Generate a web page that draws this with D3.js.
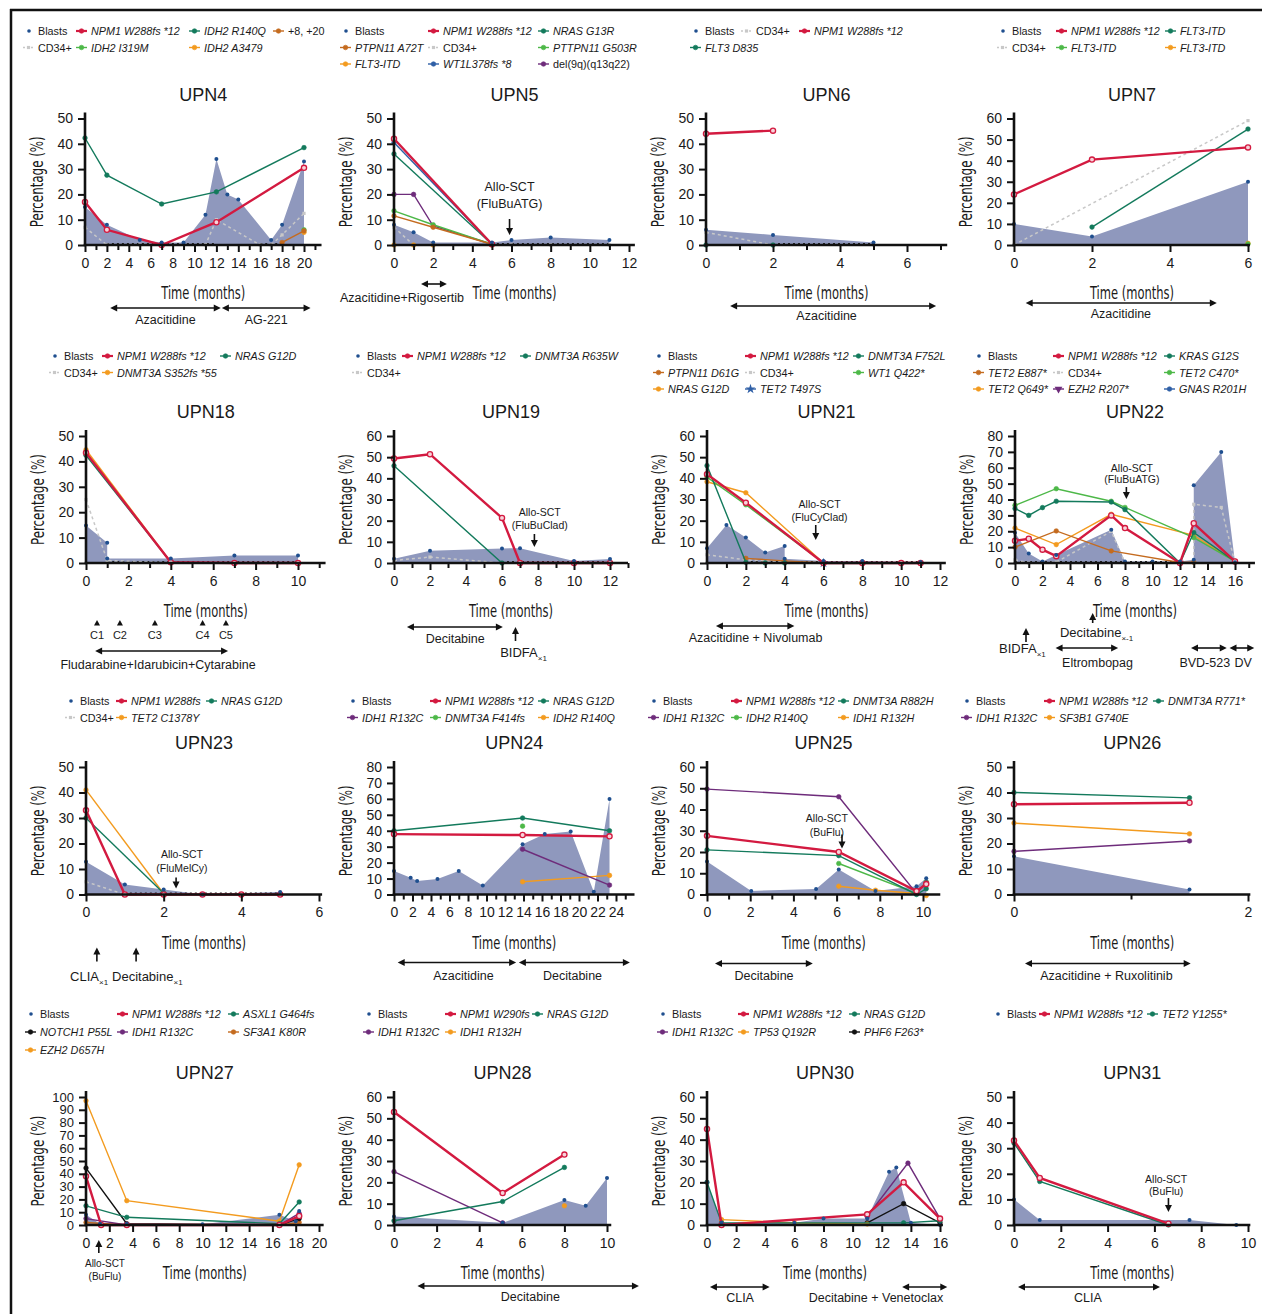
<!DOCTYPE html>
<html>
<head>
<meta charset="utf-8">
<script src="https://cdn.jsdelivr.net/npm/d3@7"></script>
<style>
body { margin: 0; background: #fff; }
svg text { font-family: "Liberation Sans", Arial, sans-serif; fill: #1a1a1a; }
</style>
</head>
<body>
<svg id="fig" width="1262" height="1314"></svg>
<script>
// ---- data: legend labels (row-major), [month, %] points, colour keys ----
var upn4Labels = ["Blasts", "NPM1 W288fs *12", "IDH2 R140Q", "+8, +20", "CD34+", "IDH2 I319M", "IDH2 A3479"];
var upn4Values = [
  [[0,15],[2,8],[5,2],[7,1],[9,1],[11,12],[12,34],[13,20],[14,18],[17,2],[18,8],[20,33]],
  [[0,17],[2,6],[7,0],[12,9],[20,30.5]],
  [[0,42.3],[2,27.6],[7,16.2],[12,21],[20,38.5]],
  [[18,1],[20,5.6]],
  [[0,7],[2,0],[5,0],[7,0],[11,0],[12,10],[16,0],[17,0],[18,4],[20,12.5]],
  [[20,6]],
  [[20,5]]
];
var upn4Colors = ["blast", "red", "teal", "brown", "cd34", "green", "orange"];

var upn5Labels = ["Blasts", "NPM1 W288fs *12", "NRAS G13R", "PTPN11 A72T", "CD34+", "PTTPN11 G503R", "FLT3-ITD", "WT1L378fs *8", "del(9q)(q13q22)"];
var upn5Values = [
  [[0,8],[1,5],[2,1],[5,1],[6,2],[8,3],[11,2]],
  [[0,42],[5,0.3]],
  [[0,36],[5,0.3]],
  [[0,11.5],[2,7],[5,0.3]],
  [[0,7],[1,0],[2,0],[5,0],[6,0],[8,0],[11,0]],
  [[0,13.5],[2,8],[5,0.3]],
  [[0,0],[1,0],[2,0],[5,0]],
  [[0,40.5],[5,0.3]],
  [[0,20],[1,20],[2,7.5],[5,0.3]]
];
var upn5Colors = ["blast", "red", "teal", "brown", "cd34", "green", "orange", "blue", "purple"];

var upn6Labels = ["Blasts", "CD34+", "NPM1 W288fs *12", "FLT3 D835"];
var upn6Values = [
  [[0,6],[2,4],[5,1]],
  [[0,5],[2,0],[5,0]],
  [[0,44],[2,45.2]],
  [[0,0],[2,0]]
];
var upn6Colors = ["blast", "cd34", "red", "teal"];

var upn7Labels = ["Blasts", "NPM1 W288fs *12", "FLT3-ITD", "CD34+", "FLT3-ITD", "FLT3-ITD"];
var upn7Values = [
  [[0,10],[2,4],[6,30]],
  [[0,24],[2,40.5],[6,46.3]],
  [[2,8.5],[6,55]],
  [[0,0],[6,59]],
  [[6,0.5]],
  [[6,0.8]]
];
var upn7Colors = ["blast", "red", "teal", "cd34", "green", "orange"];

var upn18Labels = ["Blasts", "NPM1 W288fs *12", "NRAS G12D", "CD34+", "DNMT3A S352fs *55"];
var upn18Values = [
  [[0,14.8],[1,8],[1,1.8],[4,1.8],[7,3],[10,3]],
  [[0,43.4],[4,0.3],[7,0],[10,0]],
  [[0,42.4],[4,0.3]],
  [[0,25],[1,1],[4,0],[7,0],[10,0]],
  [[0,44.6],[4,0.3]]
];
var upn18Colors = ["blast", "red", "teal", "cd34", "orange"];

var upn19Labels = ["Blasts", "NPM1 W288fs *12", "DNMT3A R635W", "CD34+"];
var upn19Values = [
  [[0,2],[2,5.8],[6,6.9],[7,7],[10,0.9],[12,1.9]],
  [[0,49.4],[2,51.4],[6,21.3],[7,0],[10,0],[12,0]],
  [[0,45.9],[6,0],[7,0]],
  [[0,1.2],[2,2.8],[6,0],[7,0],[10,0],[12,0]]
];
var upn19Colors = ["blast", "red", "teal", "cd34"];

var upn21Labels = ["Blasts", "NPM1 W288fs *12", "DNMT3A F752L", "PTPN11 D61G", "CD34+", "WT1 Q422*", "NRAS G12D", "TET2 T497S"];
var upn21Values = [
  [[0,7],[1,18],[2,12],[3,5],[4,8],[4,2],[6,1],[8,1],[11,0.5]],
  [[0,41.9],[2,28.5],[6,0],[8,0],[10,0],[11,0]],
  [[0,46],[2,0.3],[3,0],[4,0],[6,0]],
  [[2,2.2],[4,1],[6,0]],
  [[0,3.9],[2,1.5],[4,0.5],[6,0],[8,0],[10,0],[11,0]],
  [[0,40.6],[2,27.5],[6,0]],
  [[0,38.4],[2,33.2],[6,0]],
  [[6,0]]
];
var upn21Colors = ["blast", "red", "teal", "brown", "cd34", "green", "orange", "bluestar"];

var upn22Labels = ["Blasts", "NPM1 W288fs *12", "KRAS G12S", "TET2 E887*", "CD34+", "TET2 C470*", "TET2 Q649*", "EZH2 R207*", "GNAS R201H"];
var upn22Values = [
  [[0,19],[1,6],[2,1],[3,5],[7,21],[8,1],[10,1],[12,1],[13,2],[13,49],[15,70],[16,0.5]],
  [[0,14],[1,15.3],[2,8.4],[3,4.3],[7,30],[8,22],[12,0],[13,25],[16,1]],
  [[0,34.3],[1,30],[2,34.9],[3,38.9],[7,38.4],[8,33.6],[12,0],[13,19.2],[16,1]],
  [[0,10],[3,20.2],[7,7.6],[12,0.3],[13,0.5]],
  [[0,2],[1,0],[2,0],[3,0.5],[7,20],[8,0],[12,0],[13,0],[13,37],[15,35],[16,0]],
  [[0,36.3],[3,46.8],[7,38.9],[8,35],[13,16],[16,1]],
  [[0,22],[3,11.6],[7,30.7],[13,17.4],[16,1]],
  [[12,0]],
  [[12,0]]
];
var upn22Colors = ["blast", "red", "teal", "brown", "cd34", "green", "orange", "purpletri", "blue"];

var upn23Labels = ["Blasts", "NPM1 W288fs", "NRAS G12D", "CD34+", "TET2 C1378Y"];
var upn23Values = [
  [[0,12.8],[1,3.9],[2,2],[3,0],[5,1]],
  [[0,33],[1,0],[2,0],[3,0],[4,0],[5,0]],
  [[0,30],[2,0.5]],
  [[0,5],[1,0],[2,0],[5,0]],
  [[0,41],[2,0.3]]
];
var upn23Colors = ["blast", "red", "teal", "cd34", "orange"];

var upn24Labels = ["Blasts", "NPM1 W288fs *12", "NRAS G12D", "IDH1 R132C", "DNMT3A F414fs", "IDH2 R140Q"];
var upn24Values = [
  [[0,14.7],[1.8,10.5],[2.5,8.5],[4.7,9.7],[7,14.7],[9.6,5.6],[13.9,31.6],[16.3,37.9],[19.1,39.6],[21.6,1.7],[23.3,60]],
  [[0,37.9],[13.9,37.3],[23.3,36.5]],
  [[0,40],[13.9,48],[23.3,40]],
  [[13.9,28.4],[23.3,5.9]],
  [[13.9,42.9]],
  [[13.9,8],[23.3,12]]
];
var upn24Colors = ["blast", "red", "teal", "purple", "green", "orange"];

var upn25Labels = ["Blasts", "NPM1 W288fs *12", "DNMT3A R882H", "IDH1 R132C", "IDH2 R140Q", "IDH1 R132H"];
var upn25Values = [
  [[0,15.5],[2.05,1.7],[5.05,2.6],[6.1,11.8],[7.8,1.7],[9.7,3.9],[10.15,7.6]],
  [[0,27.6],[6.1,20],[9.7,1.6],[10.15,4.9]],
  [[0,21],[6.1,18.3],[9.7,0],[10.15,2.7]],
  [[0,49.6],[6.1,46],[9.7,0.5],[10.15,5.5]],
  [[6.1,14.6],[9.7,0.5],[10.15,6]],
  [[6.1,3.9],[7.8,2],[9.7,0.5],[10.15,-0.5]]
];
var upn25Colors = ["blast", "red", "teal", "purple", "green", "orange"];

var upn26Labels = ["Blasts", "NPM1 W288fs *12", "DNMT3A R771*", "IDH1 R132C", "SF3B1 G740E"];
var upn26Values = [
  [[0,15],[1.5,2]],
  [[0,35.4],[1.5,36]],
  [[0,40],[1.5,37.9]],
  [[0,16.9],[1.5,21]],
  [[0,28],[1.5,23.8]]
];
var upn26Colors = ["blast", "red", "teal", "purple", "orange"];

var upn27Labels = ["Blasts", "NPM1 W288fs *12", "ASXL1 G464fs", "NOTCH1 P55L", "IDH1 R132C", "SF3A1 K80R", "EZH2 D657H"];
var upn27Values = [
  [[0,8],[1.2,1],[3.5,1],[10,0.5],[16.6,8],[18,3],[18.3,11]],
  [[0,38],[1.3,0],[3.5,0],[16.6,0],[18.3,7]],
  [[0,15],[3.5,6],[16.6,1],[18.3,18]],
  [[0,44.5],[3.5,1],[16.6,0],[18.3,5]],
  [[0,5],[3.5,0],[16.6,0],[18.3,9]],
  [[0,2],[3.5,0],[16.6,0],[18.3,2]],
  [[0,97],[3.5,19],[16.6,3],[18.3,47]]
];
var upn27Colors = ["blast", "red", "teal", "black", "purple", "brown", "orange"];

var upn28Labels = ["Blasts", "NPM1 W290fs", "NRAS G12D", "IDH1 R132C", "IDH1 R132H"];
var upn28Values = [
  [[0,4],[5.1,1],[8,11.7],[9,9],[10,22]],
  [[0,53],[5.1,15],[8,33]],
  [[0,2],[5.1,11],[8,27]],
  [[0,25],[5.1,1]],
  [[8,9]]
];
var upn28Colors = ["blast", "red", "teal", "purple", "orange"];

var upn30Labels = ["Blasts", "NPM1 W288fs *12", "NRAS G12D", "IDH1 R132C", "TP53 Q192R", "PHF6 F263*"];
var upn30Values = [
  [[0,20],[1,1],[6,1],[8,3],[11,3],[12.5,25],[13,27],[14,1],[16,0]],
  [[0,45],[1,0],[11,5],[13.5,20],[16,3]],
  [[0,20],[1,1],[13.5,1],[16,2]],
  [[11,4],[13.8,29],[16,3]],
  [[1,2.5],[6,1],[11,0.5]],
  [[11,1],[13.5,10],[16,1]]
];
var upn30Colors = ["blast", "red", "teal", "purple", "orange", "black"];

var upn31Labels = ["Blasts", "NPM1 W288fs *12", "TET2 Y1255*"];
var upn31Values = [
  [[0,10],[1.1,2],[7.5,2],[9.5,0]],
  [[0,33],[1.1,18.4],[6.6,0.5]],
  [[0,32],[1.1,17],[6.6,0]]
];
var upn31Colors = ["blast", "red", "teal"];

// ---- layout ----
var panels = [
  {name:"UPN4", labels:upn4Labels, values:upn4Values, colors:upn4Colors, ax:85, refX:20, refPx:304, xEnd:21.6, y0:245, yTop:118.5, yMax:50, minor:true,
   legY:31, legCols:[38,91,204,288], zero:[[2,12],[16,18]],
   notes:[{t:"span", from:2.3, to:12.4, dy:63, ly:79, label:"Azacitidine"}, {t:"span", from:12.5, to:20.6, dy:63, ly:79, label:"AG-221"}]},
  {name:"UPN5", labels:upn5Labels, values:upn5Values, colors:upn5Colors, ax:394, refX:12, refPx:629, xEnd:12.3, y0:245, yTop:118.5, yMax:50, minor:true,
   legY:31, legCols:[355,443,553], zero:[[5,11]],
   notes:[{t:"down", x:5.9, a1:-26, a2:-10, tx:5.9, ty:[-54,-37], lines:["Allo-SCT","(FluBuATG)"], fs:12.5},
          {t:"span", from:1.38, to:2.7, dy:39, ly:57, lx:0.41, label:"Azacitidine+Rigosertib"}]},
  {name:"UPN6", labels:upn6Labels, values:upn6Values, colors:upn6Colors, ax:706, refX:6, refPx:907, xEnd:7.2, y0:245, yTop:118.5, yMax:50, minor:true,
   legY:31, legCols:[705,756,814], zero:[[2,5]],
   notes:[{t:"span", from:0.72, to:6.87, dy:61, ly:75, lx:3.6, label:"Azacitidine"}]},
  {name:"UPN7", labels:upn7Labels, values:upn7Values, colors:upn7Colors, ax:1014, refX:6, refPx:1248, xEnd:6.05, y0:245, yTop:118.5, yMax:60, minor:false,
   legY:31, legCols:[1012,1071,1180], zero:[],
   notes:[{t:"span", from:0.3, to:5.2, dy:58, ly:73, lx:2.74, label:"Azacitidine"}]},

  {name:"UPN18", labels:upn18Labels, values:upn18Values, colors:upn18Colors, ax:86, refX:10, refPx:298, xEnd:11.3, y0:563, yTop:436, yMax:50, minor:true,
   legY:356, legCols:[64,117,235], zero:[[1,10]],
   notes:[{t:"cycles", xs:[0.52,1.6,3.25,5.5,6.6], labels:["C1","C2","C3","C4","C5"], dy:61, ly:76},
          {t:"span", from:0.43, to:6.7, dy:88, ly:106, lx:3.4, label:"Fludarabine+Idarubicin+Cytarabine"}]},
  {name:"UPN19", labels:upn19Labels, values:upn19Values, colors:upn19Colors, ax:394, refX:12, refPx:610, xEnd:13, y0:563, yTop:436, yMax:60, minor:true,
   legY:356, legCols:[367,417,535], zero:[[6,12]],
   notes:[{t:"down", x:7.8, a1:-29, a2:-16, tx:8.1, ty:[-47,-34], lines:["Allo-SCT","(FluBuClad)"], fs:10.5},
          {t:"span", from:0.72, to:6.05, dy:64, ly:80, lx:3.4, label:"Decitabine"},
          {t:"up", x:6.75, a1:78, a2:64, tx:5.9, ty:94, label:"BIDFA", sub:"\u00d71"}]},
  {name:"UPN21", labels:upn21Labels, values:upn21Values, colors:upn21Colors, ax:707, refX:12, refPx:940, xEnd:12.3, y0:563, yTop:436, yMax:60, minor:true,
   legY:356, legCols:[668,760,868], zero:[[2,11]],
   notes:[{t:"down", x:5.6, a1:-38, a2:-23, tx:5.8, ty:[-55,-42], lines:["Allo-SCT","(FluCyClad)"], fs:10.5},
          {t:"span", from:0.46, to:4.5, dy:63, ly:79, lx:2.5, label:"Azacitidine + Nivolumab"}]},
  {name:"UPN22", labels:upn22Labels, values:upn22Values, colors:upn22Colors, ax:1015, refX:16, refPx:1235, xEnd:17.45, y0:563, yTop:436, yMax:80, minor:true,
   legY:356, legCols:[988,1068,1179], zero:[[0,12]],
   notes:[{t:"down", x:8.1, a1:-76, a2:-64, tx:8.5, ty:[-91,-80], lines:["Allo-SCT","(FluBuATG)"], fs:10.5},
          {t:"up", x:5.65, a1:60, a2:50, tx:3.27, ty:74, label:"Decitabine", sub:"\u00d7-1"},
          {t:"up", x:0.8, a1:79, a2:65, tx:-1.16, ty:90, label:"BIDFA", sub:"\u00d71"},
          {t:"span", from:2.95, to:7.5, dy:85, ly:104, lx:6.0, label:"Eltrombopag"},
          {t:"span", from:12.8, to:15.4, dy:85, ly:104, lx:13.8, label:"BVD-523"},
          {t:"span", from:15.6, to:17.4, dy:85, ly:104, lx:16.6, label:"DV"}]},

  {name:"UPN23", labels:upn23Labels, values:upn23Values, colors:upn23Colors, ax:86, refX:6, refPx:319, xEnd:6.08, y0:894.5, yTop:767, yMax:50, minor:false,
   legY:701, legCols:[80,131,221], zero:[[1,5]],
   notes:[{t:"down", x:2.32, a1:-17, a2:-6, tx:2.47, ty:[-37,-23], lines:["Allo-SCT","(FluMelCy)"], fs:10.5},
          {t:"up", x:0.28, a1:67, a2:53, tx:-0.41, ty:86, label:"CLIA", sub:"\u00d71"},
          {t:"up", x:1.29, a1:67, a2:53, tx:0.67, ty:86, label:"Decitabine", sub:"\u00d71"}]},
  {name:"UPN24", labels:upn24Labels, values:upn24Values, colors:upn24Colors, ax:394, refX:24, refPx:616, xEnd:26, lastTick:25, y0:894.5, yTop:767, yMax:80, minor:true,
   legY:701, legCols:[362,445,553], zero:[],
   notes:[{t:"span", from:0.4, to:13.2, dy:68, ly:85, lx:7.5, label:"Azacitidine"},
          {t:"span", from:13.5, to:25.5, dy:68, ly:85, lx:19.3, label:"Decitabine"}]},
  {name:"UPN25", labels:upn25Labels, values:upn25Values, colors:upn25Colors, ax:707, refX:10, refPx:923, xEnd:10.8, y0:894.5, yTop:767, yMax:60, minor:true,
   legY:701, legCols:[663,746,853], zero:[],
   notes:[{t:"down", x:6.25, a1:-60, a2:-46, tx:5.55, ty:[-73,-59], lines:["Allo-SCT","(BuFlu)"], fs:10.5},
          {t:"span", from:0.37, to:4.9, dy:69, ly:85, lx:2.64, label:"Decitabine"}]},
  {name:"UPN26", labels:upn26Labels, values:upn26Values, colors:upn26Colors, ax:1014, refX:2, refPx:1248, xEnd:2.02, y0:894.5, yTop:767, yMax:50, minor:true,
   legY:701, legCols:[976,1059,1168], zero:[],
   notes:[{t:"span", from:0.094, to:1.51, dy:69, ly:85, lx:0.79, label:"Azacitidine + Ruxolitinib"}]},

  {name:"UPN27", labels:upn27Labels, values:upn27Values, colors:upn27Colors, ax:86, refX:20, refPx:319, xEnd:20.4, y0:1225, yTop:1097, yMax:100, minor:false, yFs:13,
   legY:1014, legGap:18, legCols:[40,132,243], zero:[],
   notes:[{t:"upLines", x:1.1, a1:28, a2:15, tx:1.63, ty:[42,55], lines:["Allo-SCT","(BuFlu)"], fs:10}]},
  {name:"UPN28", labels:upn28Labels, values:upn28Values, colors:upn28Colors, ax:394, refX:10, refPx:607, xEnd:10.2, y0:1225, yTop:1097, yMax:60, minor:false,
   legY:1014, legGap:18, legCols:[378,460,547], zero:[],
   notes:[{t:"span", from:1.1, to:11.5, dy:61, ly:76, lx:6.4, label:"Decitabine"}]},
  {name:"UPN30", labels:upn30Labels, values:upn30Values, colors:upn30Colors, ax:707, refX:16, refPx:940, xEnd:16.2, y0:1225, yTop:1097, yMax:60, minor:false,
   legY:1014, legGap:18, legCols:[672,753,864], zero:[],
   notes:[{t:"span", from:0.2, to:4.3, dy:62, ly:77, lx:2.27, label:"CLIA"},
          {t:"span", from:13.4, to:16.5, dy:62, ly:77, lx:11.6, label:"Decitabine + Venetoclax"}]},
  {name:"UPN31", labels:upn31Labels, values:upn31Values, colors:upn31Colors, ax:1014, refX:10, refPx:1248, xEnd:10.1, y0:1225, yTop:1097, yMax:50, minor:false,
   legY:1014, legGap:18, legCols:[1007,1054,1162], zero:[],
   notes:[{t:"down", x:6.6, a1:-27, a2:-13, tx:6.5, ty:[-42,-30], lines:["Allo-SCT","(BuFlu)"], fs:10.5},
          {t:"span", from:0.17, to:6.24, dy:62, ly:77, lx:3.16, label:"CLIA"}]}
];

var colorMap = {red:"#d31a40", teal:"#137a5c", green:"#4db848", orange:"#f39b1f", brown:"#c46b1f",
  purple:"#6e2c7b", purpletri:"#6e2c7b", blue:"#2f5fa6", bluestar:"#2f5fa6", black:"#111111",
  cd34:"#c8c8c8", blast:"#1f4f8f"};
var areaFill = "#8f98bd";
var plainLabels = ["Blasts", "CD34+", "+8, +20", "del(9q)(q13q22)"];

var svg = d3.select("#fig");

// frame
svg.append("line").attr("x1", 10).attr("x2", 1262).attr("y1", 10).attr("y2", 10).attr("stroke", "#111").attr("stroke-width", 2.5);
svg.append("line").attr("x1", 11).attr("x2", 11).attr("y1", 9).attr("y2", 1314).attr("stroke", "#111").attr("stroke-width", 2.5);

function hArrow(g, x1, x2, yy){
  var h = 7, w = 3.5;
  g.append("line").attr("x1", x1 + h - 1).attr("x2", x2 - h + 1).attr("y1", yy).attr("y2", yy)
    .attr("stroke", "#111").attr("stroke-width", 1.6);
  g.append("path").attr("d", "M" + x1 + "," + yy + "L" + (x1 + h) + "," + (yy - w) + "L" + (x1 + h) + "," + (yy + w) + "Z").attr("fill", "#111");
  g.append("path").attr("d", "M" + x2 + "," + yy + "L" + (x2 - h) + "," + (yy - w) + "L" + (x2 - h) + "," + (yy + w) + "Z").attr("fill", "#111");
}

function vArrow(g, xx, tail, tip){
  var dir = tip > tail ? 1 : -1, h = 7, w = 3.5;
  g.append("line").attr("x1", xx).attr("x2", xx).attr("y1", tail).attr("y2", tip - dir * (h - 1))
    .attr("stroke", "#111").attr("stroke-width", 1.6);
  g.append("path").attr("d", "M" + xx + "," + tip + "L" + (xx - w) + "," + (tip - dir * h) + "L" + (xx + w) + "," + (tip - dir * h) + "Z").attr("fill", "#111");
}

function marker(g, key, cx, cy, open){
  var c = colorMap[key];
  if (key === "bluestar") {
    g.append("path").attr("d", d3.symbol().type(d3.symbolStar).size(30)()).attr("transform", "translate(" + cx + "," + cy + ")").attr("fill", c);
  } else if (key === "purpletri") {
    g.append("path").attr("d", d3.symbol().type(d3.symbolTriangle).size(26)()).attr("transform", "translate(" + cx + "," + cy + ") rotate(180)").attr("fill", c);
  } else if (key === "cd34") {
    g.append("rect").attr("x", cx - 1.6).attr("y", cy - 1.6).attr("width", 3.2).attr("height", 3.2).attr("fill", c);
  } else {
    g.append("circle").attr("cx", cx).attr("cy", cy).attr("r", open ? 2.6 : 2.3)
      .attr("fill", open ? "#f7d3da" : c).attr("stroke", c).attr("stroke-width", open ? 1.3 : 0.6);
  }
}

function drawPanel(p){
  var g = svg.append("g");
  var pxPer = (p.refPx - p.ax) / p.refX;
  var x = d3.scaleLinear().domain([0, p.xEnd]).range([p.ax, p.ax + pxPer * p.xEnd]);
  var y = d3.scaleLinear().domain([0, p.yMax]).range([p.y0, p.yTop]);
  var xRight = x(p.xEnd);
  var cx = (p.ax + xRight) / 2;

  // legend
  var ncols = p.legCols.length, gap = p.legGap || 16.5;
  p.labels.forEach(function(lab, i){
    var tx = p.legCols[i % ncols], ty = p.legY + Math.floor(i / ncols) * gap;
    var key = p.colors[i];
    if (key === "blast") {
      g.append("circle").attr("cx", tx - 9).attr("cy", ty).attr("r", 1.8).attr("fill", colorMap.blast);
    } else {
      g.append("line").attr("x1", tx - 15).attr("x2", tx - 4).attr("y1", ty).attr("y2", ty)
        .attr("stroke", colorMap[key]).attr("stroke-width", key === "red" ? 2.2 : 1.4)
        .attr("stroke-dasharray", key === "cd34" ? "2,2" : null);
      marker(g, key, tx - 9.5, ty, false);
    }
    g.append("text").attr("x", tx).attr("y", ty + 4).attr("font-size", 10.8)
      .attr("font-style", plainLabels.indexOf(lab) >= 0 ? "normal" : "italic").text(lab);
  });

  // title
  g.append("text").attr("x", cx).attr("y", p.yTop - 18).attr("text-anchor", "middle").attr("font-size", 18).text(p.name);

  // blasts area
  var blasts = p.values[0];
  g.append("path").datum(blasts)
    .attr("d", d3.area().x(function(d){ return x(d[0]); }).y0(y(0)).y1(function(d){ return y(d[1]); }))
    .attr("fill", areaFill);

  var line = d3.line().x(function(d){ return x(d[0]); }).y(function(d){ return y(d[1]); });

  // dotted zero segments
  p.zero.forEach(function(z){
    g.append("line").attr("x1", x(z[0])).attr("x2", x(z[1])).attr("y1", y(0) - 1).attr("y2", y(0) - 1)
      .attr("stroke", "#222").attr("stroke-width", 2.2).attr("stroke-dasharray", "2,3");
  });

  // series: CD34 first, then others reversed, NPM1 last
  var order = [];
  p.colors.forEach(function(c, i){ if (c === "cd34") order.push(i); });
  for (var i = p.colors.length - 1; i >= 1; i--) {
    if (p.colors[i] !== "cd34" && p.colors[i] !== "red") order.push(i);
  }
  p.colors.forEach(function(c, i){ if (c === "red") order.push(i); });

  order.forEach(function(i){
    var key = p.colors[i], pts = p.values[i];
    if (pts.length > 1) {
      g.append("path").datum(pts).attr("d", line).attr("fill", "none")
        .attr("stroke", colorMap[key])
        .attr("stroke-width", key === "red" ? 2.4 : (key === "cd34" ? 1.5 : 1.4))
        .attr("stroke-dasharray", key === "cd34" ? "3,3" : null);
    }
    pts.forEach(function(d){ marker(g, key, x(d[0]), y(d[1]), key === "red"); });
  });

  blasts.forEach(function(d){
    g.append("circle").attr("cx", x(d[0])).attr("cy", y(d[1])).attr("r", 2).attr("fill", colorMap.blast);
  });

  // axes
  var yAxis = d3.axisLeft(y).tickValues(d3.range(0, p.yMax + 1, 10)).tickSize(7).tickPadding(5).tickSizeOuter(0).tickFormat(d3.format("d"));
  var ya = g.append("g").attr("transform", "translate(" + p.ax + ",0)").call(yAxis);
  ya.select(".domain").remove();
  ya.selectAll("line").attr("stroke", "#111").attr("stroke-width", 2);
  ya.selectAll("text").attr("font-size", p.yFs || 14).attr("font-family", "Liberation Sans, Arial, sans-serif").attr("fill", "#1a1a1a");

  var last = p.lastTick !== undefined ? p.lastTick : Math.floor(p.xEnd + 0.001);
  var majors = d3.range(0, last + 1, 2);
  if (p.minor) {
    var minors = d3.range(1, last + 1, 2);
    var xm = g.append("g").attr("transform", "translate(0," + p.y0 + ")")
      .call(d3.axisBottom(x).tickValues(minors).tickSize(5).tickFormat("").tickSizeOuter(0));
    xm.select(".domain").remove();
    xm.selectAll("line").attr("stroke", "#111").attr("stroke-width", 2);
  }
  var xa = g.append("g").attr("transform", "translate(0," + p.y0 + ")")
    .call(d3.axisBottom(x).tickValues(majors).tickSize(7).tickPadding(6).tickSizeOuter(0).tickFormat(d3.format("d")));
  xa.select(".domain").remove();
  xa.selectAll("line").attr("stroke", "#111").attr("stroke-width", 2);
  xa.selectAll("text").attr("font-size", 14).attr("font-family", "Liberation Sans, Arial, sans-serif").attr("fill", "#1a1a1a");

  g.append("line").attr("x1", p.ax).attr("x2", p.ax).attr("y1", p.y0 + 1).attr("y2", p.yTop - 6)
    .attr("stroke", "#111").attr("stroke-width", 2.6);
  g.append("line").attr("x1", p.ax - 1.3).attr("x2", xRight).attr("y1", p.y0).attr("y2", p.y0)
    .attr("stroke", "#111").attr("stroke-width", 2.6);

  // axis titles
  g.append("text").attr("x", cx).attr("y", p.y0 + 54).attr("text-anchor", "middle")
    .attr("font-size", 18).style("font-family", "'Liberation Sans Narrow', 'DejaVu Sans Condensed', sans-serif")
    .attr("textLength", 84).attr("lengthAdjust", "spacingAndGlyphs").text("Time (months)");
  g.append("text").attr("transform", "translate(" + (p.ax - 42) + "," + ((p.y0 + p.yTop) / 2) + ") rotate(-90)")
    .attr("text-anchor", "middle").attr("font-size", 18)
    .style("font-family", "'Liberation Sans Narrow', 'DejaVu Sans Condensed', sans-serif")
    .attr("textLength", 91).attr("lengthAdjust", "spacingAndGlyphs").text("Percentage (%)");

  // annotations
  p.notes.forEach(function(n){
    if (n.t === "span") {
      hArrow(g, x(n.from), x(n.to), p.y0 + n.dy);
      g.append("text").attr("x", x(n.lx !== undefined ? n.lx : (n.from + n.to) / 2)).attr("y", p.y0 + n.ly)
        .attr("text-anchor", "middle").attr("font-size", 12.5).text(n.label);
    } else if (n.t === "down" || n.t === "upLines") {
      vArrow(g, x(n.x), p.y0 + n.a1, p.y0 + n.a2);
      n.lines.forEach(function(s, k){
        g.append("text").attr("x", x(n.tx)).attr("y", p.y0 + n.ty[k]).attr("text-anchor", "middle")
          .attr("font-size", n.fs).text(s);
      });
    } else if (n.t === "up") {
      vArrow(g, x(n.x), p.y0 + n.a1, p.y0 + n.a2);
      var t = g.append("text").attr("x", x(n.tx)).attr("y", p.y0 + n.ty).attr("font-size", 13);
      t.append("tspan").text(n.label);
      t.append("tspan").attr("dy", 4).attr("font-size", 8).text(n.sub);
    } else if (n.t === "cycles") {
      n.xs.forEach(function(v, k){
        var px = x(v), py = p.y0 + n.dy;
        g.append("path").attr("d", "M" + px + "," + (py - 4) + "L" + (px - 3) + "," + (py + 1.5) + "L" + (px + 3) + "," + (py + 1.5) + "Z").attr("fill", "#111");
        g.append("text").attr("x", px).attr("y", p.y0 + n.ly).attr("text-anchor", "middle").attr("font-size", 11).text(n.labels[k]);
      });
    }
  });
}

panels.forEach(drawPanel);
</script>
</body>
</html>
